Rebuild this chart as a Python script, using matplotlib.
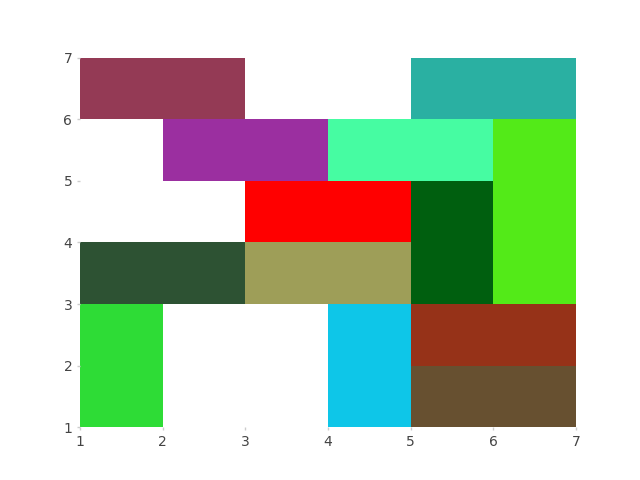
import matplotlib
matplotlib.use("Agg")
import matplotlib.pyplot as plt
from matplotlib.patches import Rectangle

x0 = [1, 5, 2, 4, 6, 6, 6, 3, 5, 1, 3, 1, 4, 5, 5]
x1 = [3, 7, 4, 6, 7, 7, 7, 5, 6, 3, 5, 2, 5, 7, 7]
y0 = [6, 6, 5, 5, 5, 4, 3, 4, 3, 3, 3, 1, 1, 2, 1]
y1 = [7, 7, 6, 6, 6, 5, 4, 5, 5, 4, 4, 3, 3, 3, 2]
colors = ["#943A55", "#2AB0A2", "#9B2FA0", "#46FCA2", "#53EA18", "#53EA18", "#53EA18",
          "#FF0000", "#005F0F", "#2D5233", "#9E9E58", "#2EDC36", "#0EC6E8", "#963218", "#675030"]
ticks = [1, 2, 3, 4, 5, 6, 7]

fig, ax = plt.subplots(figsize=(6.4, 4.8), dpi=100)
for a, b, c, d, col in zip(x0, x1, y0, y1, colors):
    ax.add_patch(Rectangle((a, c), b - a, d - c, facecolor=col, edgecolor="none"))
ax.set_xlim(1, 7)
ax.set_ylim(1, 7)
ax.set_xticks(ticks)
ax.set_yticks(ticks)
for s in ax.spines.values():
    s.set_visible(False)
ax.tick_params(length=2, width=1, color="#cccccc", labelcolor="#444444", labelsize=10)
fig.savefig("out.png")
